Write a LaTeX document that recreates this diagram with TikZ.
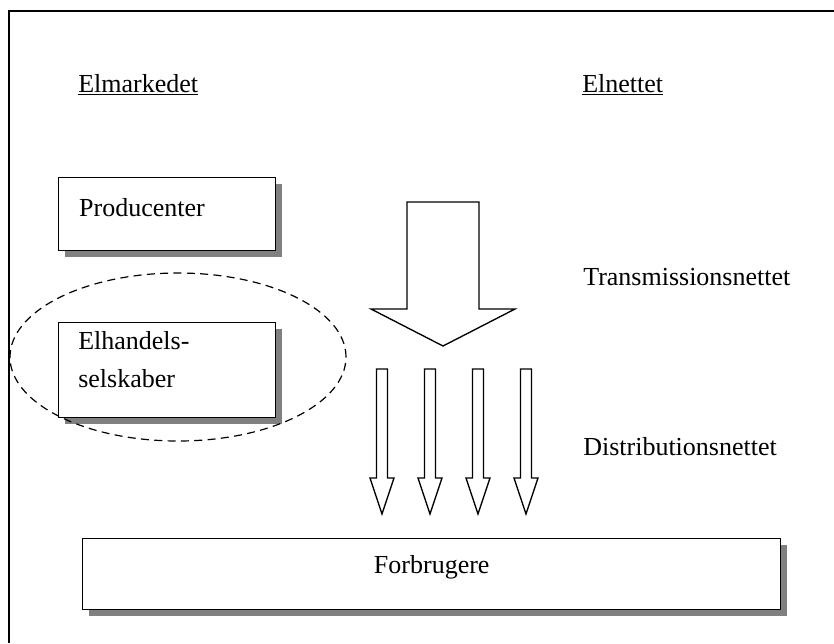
\documentclass[tikz,border=0pt]{standalone}
\usepackage{fontspec}
\setmainfont{Liberation Serif}
\usetikzlibrary{shadows}

\tikzset{
	box/.style={draw,fill=white,line width=1.1pt,inner sep=0pt,
		drop shadow={fill=black!50,opacity=1,shadow xshift=4.5pt,shadow yshift=-4.5pt}},
	arrowline/.style={draw,line width=1pt,line join=miter},
	heading/.style={anchor=base west,inner sep=0pt}
}

\begin{document}
\begin{tikzpicture}[x=0.75pt,y=-0.75pt,font=\fontsize{19.5}{29}\selectfont]
		\useasboundingbox (0,0) rectangle (834,643);
		% frame
		\draw[line width=1.5pt] (8.5,643) -- (8.5,10.5) -- (834,10.5);
		% headings
		\node[heading] (marked) at (78,92) {\underline{Elmarkedet}};
		\node[heading] (net) at (582,92) {\underline{Elnettet}};
		% boxes
		\node[box,anchor=north west,minimum width=162.75pt,minimum height=54.75pt,
			text width=132pt,align=left,text depth=10.5pt] (prod) at (58,177) {Producenter};
		\node[box,anchor=north west,minimum width=162.75pt,minimum height=71.25pt] (handel) at (58,322) {};
		\node[anchor=north west,inner sep=0pt,align=left] (handeltxt) at (78,331) {Elhandels-\\selskaber};
		\node[box,anchor=north west,minimum width=523.5pt,minimum height=53.25pt,
			text depth=15pt] (forbr) at (82,538) {Forbrugere};
		\draw[dashed,dash pattern=on 6pt off 4pt,line width=0.9pt] (178,357) ellipse [x radius=126pt,y radius=63pt];
		% big arrow
		\draw[arrowline] (407,202) -- (479,202) -- (479,309) -- (515,309) -- (443,346)
			-- (371,309) -- (407,309) -- cycle;
		% small arrows
		\foreach \cx in {382,430,478,526}
			\draw[arrowline] (\cx-5.5,369) -- (\cx+5.5,369) -- (\cx+5.5,478) -- (\cx+12,478)
				-- (\cx,514) -- (\cx-12,478) -- (\cx-5.5,478) -- cycle;
		% net levels
		\node[anchor=west,inner sep=0pt] (trans) at (583,277) {Transmissionsnettet};
		\node[anchor=west,inner sep=0pt] (distr) at (583,447) {Distributionsnettet};
	\end{tikzpicture}
\end{document}
